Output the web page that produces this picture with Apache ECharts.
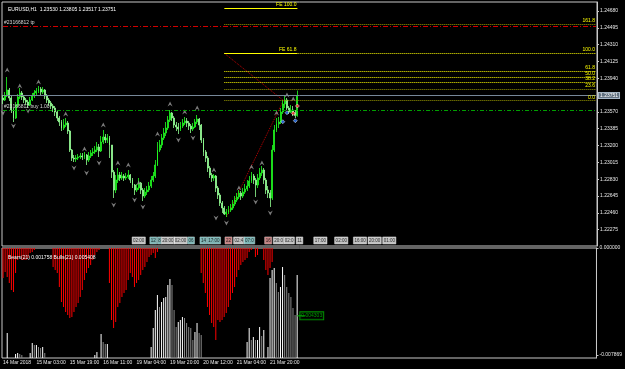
<!DOCTYPE html>
<html>
<head>
<meta charset="utf-8">
<script src="https://cdn.jsdelivr.net/npm/echarts@6/dist/echarts.min.js"></script>
<style>
  html, body { margin: 0; padding: 0; background: #000; }
  #main { width: 625px; height: 369px; }
</style>
</head>
<body>
<div id="main"></div>
<script>
var myChart = echarts.init(document.getElementById("main"));

// EURUSD H1 bars, 14 Mar 2018 11:00 onwards
const opens = [1.23723, 1.23701, 1.23745, 1.23811, 1.23723, 1.23591, 1.23503, 1.23646, 1.23734, 1.23778,
  1.23734, 1.23701, 1.23679, 1.23646, 1.23701, 1.23745, 1.23778, 1.23800, 1.23822, 1.23789,
  1.23811, 1.23745, 1.23701, 1.23668, 1.23635, 1.23613, 1.23569, 1.23503, 1.23459, 1.23393,
  1.23426, 1.23448, 1.23360, 1.23151, 1.23063, 1.23052, 1.23063, 1.23074, 1.23085, 1.23074,
  1.23096, 1.23041, 1.23085, 1.23118, 1.23129, 1.23151, 1.23184, 1.23140, 1.23239, 1.23294,
  1.23261, 1.23283, 1.23206, 1.22909, 1.22711, 1.22821, 1.22876, 1.22843, 1.22865, 1.22843,
  1.22854, 1.22876, 1.22821, 1.22766, 1.22711, 1.22733, 1.22788, 1.22711, 1.22645, 1.22689,
  1.22711, 1.22755, 1.22821, 1.22865, 1.22986, 1.23151, 1.23206, 1.23283, 1.23338, 1.23393,
  1.23481, 1.23558, 1.23503, 1.23426, 1.23404, 1.23382, 1.23415, 1.23448, 1.23470, 1.23448,
  1.23415, 1.23382, 1.23404, 1.23459, 1.23492, 1.23426, 1.23261, 1.23129, 1.23063, 1.22953,
  1.22876, 1.22843, 1.22865, 1.22733, 1.22656, 1.22568, 1.22513, 1.22447, 1.22469, 1.22491,
  1.22513, 1.22557, 1.22601, 1.22634, 1.22678, 1.22645, 1.22689, 1.22722, 1.22755, 1.22810,
  1.22865, 1.22821, 1.22766, 1.22843, 1.22898, 1.22931, 1.22821, 1.22711, 1.22678, 1.22623,
  1.23151, 1.23371, 1.23437, 1.23459, 1.23569, 1.23657, 1.23701, 1.23613, 1.23569, 1.23591,
  1.23558, 1.23530];
const closes = [1.23701, 1.23745, 1.23811, 1.23723, 1.23591, 1.23503, 1.23646, 1.23734, 1.23778, 1.23734,
  1.23701, 1.23679, 1.23646, 1.23701, 1.23745, 1.23778, 1.23800, 1.23822, 1.23789, 1.23811,
  1.23745, 1.23701, 1.23668, 1.23635, 1.23613, 1.23569, 1.23503, 1.23459, 1.23393, 1.23426,
  1.23448, 1.23360, 1.23151, 1.23063, 1.23052, 1.23063, 1.23074, 1.23085, 1.23074, 1.23096,
  1.23041, 1.23085, 1.23118, 1.23129, 1.23151, 1.23184, 1.23140, 1.23239, 1.23294, 1.23261,
  1.23283, 1.23206, 1.22909, 1.22711, 1.22821, 1.22876, 1.22843, 1.22865, 1.22843, 1.22854,
  1.22876, 1.22821, 1.22766, 1.22711, 1.22733, 1.22788, 1.22711, 1.22645, 1.22689, 1.22711,
  1.22755, 1.22821, 1.22865, 1.22986, 1.23151, 1.23206, 1.23283, 1.23338, 1.23393, 1.23481,
  1.23558, 1.23503, 1.23426, 1.23404, 1.23382, 1.23415, 1.23448, 1.23470, 1.23448, 1.23415,
  1.23382, 1.23404, 1.23459, 1.23492, 1.23426, 1.23261, 1.23129, 1.23063, 1.22953, 1.22876,
  1.22843, 1.22865, 1.22733, 1.22656, 1.22568, 1.22513, 1.22447, 1.22469, 1.22491, 1.22513,
  1.22557, 1.22601, 1.22634, 1.22678, 1.22645, 1.22689, 1.22722, 1.22755, 1.22810, 1.22865,
  1.22821, 1.22766, 1.22843, 1.22898, 1.22931, 1.22821, 1.22711, 1.22678, 1.22623, 1.23151,
  1.23371, 1.23437, 1.23459, 1.23569, 1.23657, 1.23701, 1.23613, 1.23569, 1.23591, 1.23558,
  1.23530, 1.23751];
const highs = [1.23756, 1.23789, 1.23954, 1.23833, 1.23745, 1.23613, 1.23679, 1.23767, 1.23833, 1.23800,
  1.23756, 1.23723, 1.23701, 1.23734, 1.23778, 1.23811, 1.23833, 1.23855, 1.23844, 1.23844,
  1.23822, 1.23767, 1.23723, 1.23690, 1.23657, 1.23635, 1.23591, 1.23525, 1.23481, 1.23492,
  1.23503, 1.23470, 1.23371, 1.23162, 1.23096, 1.23096, 1.23107, 1.23118, 1.23118, 1.23129,
  1.23107, 1.23129, 1.23151, 1.23173, 1.23195, 1.23239, 1.23217, 1.23305, 1.23371, 1.23327,
  1.23327, 1.23305, 1.23206, 1.22931, 1.22876, 1.22953, 1.22909, 1.22909, 1.22887, 1.22898,
  1.22931, 1.22887, 1.22843, 1.22777, 1.22777, 1.22843, 1.22799, 1.22733, 1.22733, 1.22755,
  1.22799, 1.22865, 1.22909, 1.23041, 1.23239, 1.23261, 1.23327, 1.23393, 1.23459, 1.23525,
  1.23591, 1.23569, 1.23525, 1.23459, 1.23448, 1.23459, 1.23492, 1.23514, 1.23503, 1.23470,
  1.23437, 1.23448, 1.23492, 1.23536, 1.23503, 1.23437, 1.23283, 1.23151, 1.23085, 1.22975,
  1.22898, 1.22887, 1.22876, 1.22755, 1.22678, 1.22590, 1.22535, 1.22502, 1.22535, 1.22557,
  1.22601, 1.22645, 1.22678, 1.22711, 1.22700, 1.22733, 1.22777, 1.22821, 1.22865, 1.22909,
  1.22887, 1.22843, 1.22887, 1.22953, 1.22975, 1.22953, 1.22843, 1.22755, 1.22711, 1.23206,
  1.23426, 1.23503, 1.23514, 1.23613, 1.23701, 1.23745, 1.23723, 1.23635, 1.23646, 1.23635,
  1.23591, 1.23805];
const lows = [1.23657, 1.23690, 1.23734, 1.23690, 1.23558, 1.23459, 1.23492, 1.23624, 1.23712, 1.23701,
  1.23668, 1.23646, 1.23613, 1.23635, 1.23690, 1.23723, 1.23756, 1.23778, 1.23756, 1.23767,
  1.23712, 1.23668, 1.23635, 1.23602, 1.23569, 1.23525, 1.23470, 1.23415, 1.23360, 1.23371,
  1.23404, 1.23327, 1.23129, 1.23030, 1.23019, 1.23019, 1.23041, 1.23052, 1.23041, 1.23052,
  1.22986, 1.23019, 1.23063, 1.23085, 1.23107, 1.23129, 1.23074, 1.23129, 1.23217, 1.23228,
  1.23228, 1.23063, 1.22843, 1.22623, 1.22678, 1.22788, 1.22810, 1.22821, 1.22810, 1.22821,
  1.22832, 1.22788, 1.22733, 1.22656, 1.22689, 1.22711, 1.22667, 1.22590, 1.22623, 1.22656,
  1.22689, 1.22733, 1.22799, 1.22843, 1.22975, 1.23129, 1.23173, 1.23261, 1.23305, 1.23371,
  1.23459, 1.23470, 1.23393, 1.23360, 1.23327, 1.23360, 1.23393, 1.23426, 1.23404, 1.23371,
  1.23338, 1.23360, 1.23393, 1.23437, 1.23371, 1.23228, 1.23085, 1.23019, 1.22909, 1.22843,
  1.22799, 1.22810, 1.22689, 1.22612, 1.22535, 1.22458, 1.22436, 1.22414, 1.22447, 1.22469,
  1.22491, 1.22535, 1.22579, 1.22612, 1.22601, 1.22623, 1.22667, 1.22700, 1.22733, 1.22788,
  1.22777, 1.22634, 1.22733, 1.22821, 1.22865, 1.22777, 1.22667, 1.22623, 1.22524, 1.22601,
  1.23129, 1.23349, 1.23393, 1.23437, 1.23547, 1.23613, 1.23591, 1.23547, 1.23558, 1.23525,
  1.23503, 1.23517];

// Bears(21) / Bulls(21) histogram
const bears = [-0.002205, -0.001764, -0.002132, -0.002573, -0.003087, -0.003234, -0.001838, -0.000882, -0.000662, -0.000882,
  -0.000882, -0.000882, -0.000735, -0.000368, -0.000294, -0.000147, 0, 0, 0, 0,
  0, 0, 0, 0, -0.001397, -0.001617, -0.001838, -0.002867, -0.003969, -0.004337,
  -0.004704, -0.004925, -0.005145, -0.005072, -0.004704, -0.004337, -0.004043, -0.003602, -0.003087, -0.002352,
  -0.001838, -0.001470, -0.001250, -0.000882, -0.000515, -0.000294, -0.000147, 0, 0, 0,
  0, -0.002573, -0.005292, -0.005880, -0.005439, -0.004337, -0.004043, -0.003602, -0.003308, -0.003087,
  -0.002352, -0.001838, -0.002132, -0.002867, -0.002573, -0.002352, -0.001985, -0.001617, -0.001397, -0.001029,
  -0.000662, -0.000515, -0.000368, -0.000735, -0.000294, 0, 0, 0, 0, 0,
  0, 0, 0, 0, 0, 0, 0, 0, 0, 0,
  0, 0, 0, 0, 0, -0.001838, -0.002573, -0.003308, -0.004337, -0.004925,
  -0.005513, -0.005807, -0.006762, -0.005292, -0.005439, -0.005292, -0.005072, -0.004778, -0.004337, -0.003822,
  -0.003308, -0.002867, -0.002132, -0.001617, -0.001250, -0.001029, -0.000882, -0.000735, -0.000294, -0.000147,
  0, -0.000662, -0.000515, 0, 0, -0.000882, -0.001617, -0.001985, -0.001470, -0.001029,
  0, 0, 0, 0, 0, 0, 0, 0, 0, 0,
  0, 0];
const bulls = [0, 0, 0.001838, 0, 0, 0, 0.000294, 0.000368, 0.000294, 0.000221,
  0, 0, 0, 0.000368, 0.001103, 0.000956, 0.000956, 0.000809, 0.000735, 0.000809,
  0.000368, 0, 0, 0, 0, 0, 0, 0, 0, 0,
  0, 0, 0, 0, 0, 0, 0, 0, 0, 0,
  0, 0, 0, 0, 0.000221, 0.000441, 0, 0.001764, 0.001176, 0.001029,
  0.001029, 0, 0, 0, 0, 0, 0, 0, 0, 0,
  0, 0, 0, 0, 0, 0, 0, 0, 0, 0,
  0, 0.000809, 0.002205, 0.003528, 0.004631, 0.003749, 0.004116, 0.004410, 0.004484, 0.005366,
  0.005807, 0.005366, 0.003528, 0.002279, 0.002646, 0.002793, 0.003014, 0.002940, 0.002573, 0.002279,
  0.002205, 0.001323, 0.001911, 0.002573, 0.001838, 0.001691, 0, 0, 0, 0,
  0, 0, 0, 0, 0, 0, 0, 0, 0, 0,
  0, 0, 0, 0, 0, 0, 0, 0.001176, 0.002205, 0.001323,
  0.001544, 0.001323, 0.001323, 0.002279, 0.001617, 0.002058, 0, 0.000809, 0.005880, 0.006468,
  0.006615, 0.005513, 0.004851, 0.005219, 0.006689, 0.006101, 0.005219, 0.004778, 0.004484, 0.003675,
  0.003161, 0.006101];

const priceTicks = [1.24680, 1.24495, 1.24310, 1.24125, 1.23940, 1.23570, 1.23385,
  1.23200, 1.23015, 1.22830, 1.22645, 1.22460, 1.22275];
const indTicks = [0, -0.007869];
const timeTicks = [[0, "14 Mar 2018"], [16, "15 Mar 03:00"], [32, "15 Mar 19:00"], [48, "16 Mar 11:00"],
  [64, "19 Mar 04:00"], [80, "19 Mar 20:00"], [96, "20 Mar 12:00"], [112, "21 Mar 04:00"], [128, "21 Mar 20:00"]];

// fractals [bar, price]
const fractalUp = [[2, 1.24031], [8, 1.23855], [17, 1.23899], [30, 1.23547], [39, 1.23162], [48, 1.23426],
  [55, 1.23008], [60, 1.22986], [65, 1.22788], [74, 1.23327], [80, 1.23657], [87, 1.23569], [93, 1.23613],
  [101, 1.22931], [113, 1.22733], [119, 1.22964], [124, 1.23008], [131, 1.23558], [136, 1.23756], [139, 1.23712]];
const fractalDown = [[0, 1.23558], [5, 1.23415], [12, 1.23580], [34, 1.22953], [40, 1.22898], [46, 1.23008],
  [53, 1.22546], [63, 1.22601], [67, 1.22524], [84, 1.23261], [91, 1.23283], [102, 1.22403], [107, 1.22348],
  [121, 1.22579], [128, 1.22458]];
const buyArrows = [[134, 1.23462], [136, 1.23561], [140, 1.23473]];
const sellArrows = [[139, 1.23555], [141, 1.23635]];

// order lines
const tpPrice = 1.24515;
const buyPrice = 1.23591;
const bidPrice = 1.23751;

// fibonacci
const fiboLevels = [161.8, 100.0, 61.8, 50.0, 38.2, 23.6, 0.0];
const fibo0 = 1.23693, fibo100 = 1.24215;
const feLevels = [[100.0, 1.24710], [61.8, 1.24215]];
const fiboStartBar = 106, feEndBar = 141;
const trendA = [[107, 1.22414], [134, 1.23682]];
const trendB = [[106, 1.24215], [135, 1.23682]];

// session boxes along the bottom of the price panel [bar, text, kind]
const sessionBoxes = [[65, "02:00", "w"], [72, "12", "c"], [75, "8", "c"], [79, "20:00", "w"], [85, "02:00", "w"],
  [90, "06", "c"], [96, "14", "c"], [101, "17:00", "c"], [108, "22", "p"], [113, "02:4", "w"], [118, "07:0", "c"],
  [127, "16", "p"], [132, "20:0", "w"], [137, "02:0", "w"], [142, "11", "w"], [152, "17:00", "w"],
  [162, "02:00", "w"], [171, "16:00", "w"], [178, "20:00", "w"], [185, "01:00", "w"]];

const boxValue = [148, 0.0031, "0.004303"];

const slots = 285;
const cats = [];
for (let i = 0; i < slots; i++) cats.push("b" + i);
const timeMap = {};
timeTicks.forEach((t) => (timeMap[t[0]] = t[1]));

const candleData = opens.map((o, i) => [o, closes[i], lows[i], highs[i]]);
const boxRow = 1.22156;
const boxColors = { w: "#f4f4f4", c: "#9fe3e3", p: "#f2a3a3" };

const font = "Liberation Sans";
const fs = 5;

function hLine(price, lineStyle, label, fromBar, toBar) {
  return [
    { coord: [fromBar, price], lineStyle: lineStyle, label: label },
    { coord: [toBar, price] },
  ];
}

const markLines = [
  hLine(tpPrice, { color: "#d00000", type: [5, 2, 1, 2], width: 1 },
    { show: true, formatter: "#23166812 tp", position: "insideStartTop", color: "#d8d8d8", fontSize: fs, fontFamily: font, distance: 1 },
    0, slots - 1),
  hLine(buyPrice, { color: "#00a000", type: [4, 2, 1, 2], width: 1 },
    { show: true, formatter: "#23166812 buy 1.00", position: "insideStartTop", color: "#d8d8d8", fontSize: fs, fontFamily: font, distance: 1 },
    0, slots - 1),
  hLine(bidPrice, { color: "#778899", type: "solid", width: 1 },
    { show: true, formatter: bidPrice.toFixed(5), position: "end", distance: 3, color: "#fff",
      backgroundColor: "#60707f", borderColor: "#a8b8c8", borderWidth: 1, padding: [0, 1], fontSize: fs, fontFamily: font },
    0, slots - 1),
];
fiboLevels.forEach((lv) => {
  const p = fibo0 + (lv / 100) * (fibo100 - fibo0);
  const col = lv === 161.8 || lv === 23.6 || lv === 0 ? "#9a9a00" : "#ffff00";
  markLines.push(hLine(p, { color: col, type: "dotted", width: 1 },
    { show: true, formatter: lv.toFixed(1), position: "insideEndTop", color: "#ffff00", fontSize: fs, fontFamily: font, distance: 1 },
    fiboStartBar, slots - 1));
});
feLevels.forEach((fe) => {
  markLines.push(hLine(fe[1], { color: "#ffff00", type: "solid", width: 1 },
    { show: true, formatter: "FE " + fe[0].toFixed(1), position: "insideEndTop", color: "#ffff00", fontSize: fs, fontFamily: font, distance: 1 },
    fiboStartBar, feEndBar));
});

const arrowPath = "path://M5,0L10,10L5,6.5L0,10Z";

option = {
  backgroundColor: "#000",
  animation: false,
  textStyle: { fontFamily: font },
  title: [
    { text: "EURUSD,H1  1.23530 1.23805 1.23517 1.23751", left: 3, top: 2,
      textStyle: { color: "#fff", fontSize: fs, fontWeight: "normal", fontFamily: font } },
    { text: "Bears(21) 0.001758 Bulls(21) 0.005408", left: 3, top: 250,
      textStyle: { color: "#fff", fontSize: fs, fontWeight: "normal", fontFamily: font } },
  ],
  grid: [
    { left: 2, top: 2, right: 28, height: 244, show: true, borderColor: "#c8c8c8", borderWidth: 1 },
    { left: 2, top: 248, right: 28, height: 110, show: true, borderColor: "#c8c8c8", borderWidth: 1 },
  ],
  xAxis: [
    { type: "category", gridIndex: 0, data: cats, show: false },
    {
      type: "category", gridIndex: 1, data: cats,
      axisLine: { show: false },
      axisTick: { alignWithLabel: true, length: 3, lineStyle: { color: "#e0e0e0" },
        interval: (i) => timeMap[i] !== undefined },
      axisLabel: { interval: (i) => timeMap[i] !== undefined, formatter: (v, i) => timeMap[i] || "",
        align: "left", margin: 2, color: "#e8e8e8", fontSize: fs, fontFamily: font },
    },
  ],
  yAxis: [
    {
      type: "value", gridIndex: 0, position: "right", min: 1.22095, max: 1.24779,
      splitLine: { show: false },
      axisLine: { show: true, lineStyle: { color: "#c8c8c8" } },
      axisTick: { show: true, customValues: priceTicks, length: 2, lineStyle: { color: "#c8c8c8" } },
      axisLabel: { customValues: priceTicks, formatter: (v) => v.toFixed(5), margin: 3,
        color: "#e8e8e8", fontSize: fs, fontFamily: font },
    },
    {
      type: "value", gridIndex: 1, position: "right", min: -0.00809, max: 0,
      splitLine: { show: false },
      axisLine: { show: true, lineStyle: { color: "#c8c8c8" } },
      axisTick: { show: true, customValues: indTicks, length: 2, lineStyle: { color: "#c8c8c8" } },
      axisLabel: { customValues: indTicks, formatter: (v) => v.toFixed(6), margin: 3,
        color: "#e8e8e8", fontSize: fs, fontFamily: font },
    },
    { type: "value", gridIndex: 1, min: 0, max: 0.00809, show: false },
  ],
  series: [
    {
      name: "EURUSD", type: "candlestick", xAxisIndex: 0, yAxisIndex: 0,
      data: candleData, barWidth: 1.4,
      itemStyle: { color: "#00a000", color0: "#d8ffd8", borderColor: "#22ff22", borderColor0: "#90ff90", borderWidth: 0.8 },
      markLine: { symbol: ["none", "none"], silent: true, animation: false, data: markLines },
      z: 3,
    },
    {
      type: "line", xAxisIndex: 0, yAxisIndex: 0, data: trendA, symbol: "none",
      lineStyle: { color: "#c00000", type: "dotted", width: 1 }, z: 2,
    },
    {
      type: "line", xAxisIndex: 0, yAxisIndex: 0, data: trendB, symbol: "none",
      lineStyle: { color: "#c00000", type: "dotted", width: 1 }, z: 2,
    },
    {
      type: "scatter", xAxisIndex: 0, yAxisIndex: 0, data: fractalUp, symbol: arrowPath, symbolSize: [5, 5],
      itemStyle: { color: "#9a9a9a" }, z: 4,
    },
    {
      type: "scatter", xAxisIndex: 0, yAxisIndex: 0, data: fractalDown, symbol: arrowPath, symbolSize: [5, 5],
      symbolRotate: 180, itemStyle: { color: "#9a9a9a" }, z: 4,
    },
    {
      type: "scatter", xAxisIndex: 0, yAxisIndex: 0, data: buyArrows, symbol: "diamond", symbolSize: 4,
      itemStyle: { color: "#2a7bff", borderColor: "#fff", borderWidth: 0.6 }, z: 5,
    },
    {
      type: "scatter", xAxisIndex: 0, yAxisIndex: 0, data: sellArrows, symbol: "diamond", symbolSize: 4,
      itemStyle: { color: "#ff3030", borderColor: "#fff", borderWidth: 0.6 }, z: 5,
    },
    {
      type: "scatter", xAxisIndex: 0, yAxisIndex: 0, symbolSize: 0, z: 6,
      data: sessionBoxes.map((b) => ({
        value: [b[0], boxRow],
        label: { show: true, formatter: b[1], position: "inside", color: "#000", fontSize: 4.5, fontFamily: font,
          backgroundColor: boxColors[b[2]], borderColor: "#888", borderWidth: 0.5, padding: [1, 1] },
      })),
    },
    {
      name: "Bears", type: "bar", xAxisIndex: 1, yAxisIndex: 1, data: bears, barWidth: 1,
      itemStyle: { color: "#ff0000" },
    },
    {
      name: "Bulls", type: "bar", xAxisIndex: 1, yAxisIndex: 2, data: bulls, barWidth: 1,
      barGap: "-100%",
      itemStyle: { color: (p) => (p.dataIndex > 0 && bulls[p.dataIndex] < bulls[p.dataIndex - 1] ? "#8a8a8a" : "#ffffff") },
    },
    {
      type: "line", xAxisIndex: 1, yAxisIndex: 2, symbol: "none",
      data: [[closes.length - 1, boxValue[1]], [boxValue[0] - 3, boxValue[1]]],
      lineStyle: { color: "#00b000", width: 1 },
    },
    {
      type: "scatter", xAxisIndex: 1, yAxisIndex: 2, symbolSize: 0,
      data: [{ value: [boxValue[0], boxValue[1]],
        label: { show: true, formatter: boxValue[2], position: "inside", color: "#00c000", fontSize: fs, fontFamily: font,
          backgroundColor: "#000", borderColor: "#00b000", borderWidth: 1, padding: [1, 1] } }],
    },
  ],
};
myChart.setOption(option);
</script>
</body>
</html>
